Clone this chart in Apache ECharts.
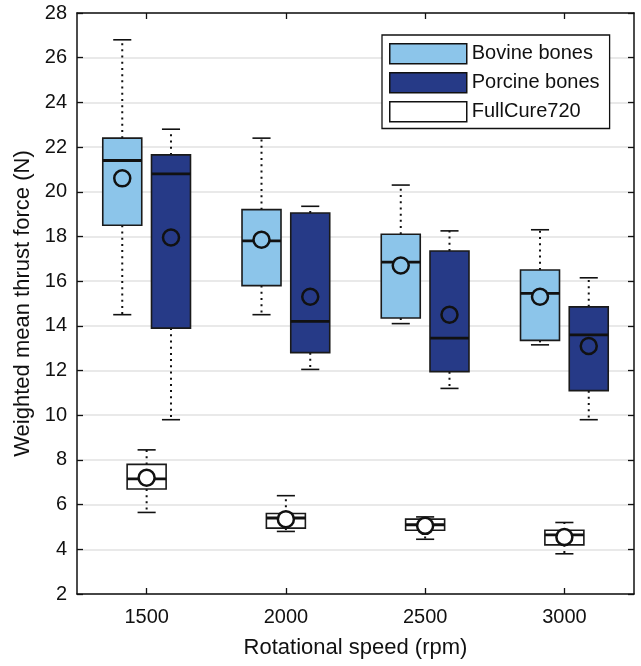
<!DOCTYPE html>
<html>
<head>
<meta charset="utf-8">
<script src="https://cdn.jsdelivr.net/npm/echarts@6/dist/echarts.min.js"></script>
<style>
html,body{margin:0;padding:0;background:#fff;}
#chart{width:641px;height:666px;}
</style>
</head>
<body>
<div id="chart"></div>
<script>
const categories = ['1500', '2000', '2500', '3000'];
const seriesNames = ['Bovine bones', 'Porcine bones', 'FullCure720'];
const yTicks = [2, 28, 2]; // min, max, interval

const bovineLow    = [14.5, 14.5, 14.1, 13.15];
const bovineQ1     = [18.5, 15.8, 14.35, 13.35];
const bovineMedian = [21.4, 17.8, 16.85, 15.45];
const bovineQ3     = [22.4, 19.2, 18.1, 16.5];
const bovineHigh   = [26.8, 22.4, 20.3, 18.3];
const bovineMean   = [20.6, 17.85, 16.7, 15.3];

const porcineLow    = [9.8, 12.05, 11.2, 9.8];
const porcineQ1     = [13.9, 12.8, 11.95, 11.1];
const porcineMedian = [20.8, 14.2, 13.45, 13.6];
const porcineQ3     = [21.65, 19.05, 17.35, 14.85];
const porcineHigh   = [22.8, 19.35, 18.25, 16.15];
const porcineMean   = [17.95, 15.3, 14.5, 13.1];

const fullLow    = [5.65, 4.8, 4.45, 3.8];
const fullQ1     = [6.7, 4.95, 4.85, 4.2];
const fullMedian = [7.15, 5.4, 5.1, 4.65];
const fullQ3     = [7.8, 5.6, 5.35, 4.85];
const fullHigh   = [8.45, 6.4, 5.45, 5.2];
const fullMean   = [7.2, 5.35, 5.05, 4.55];

const FONT = "'Liberation Sans', Arial, Helvetica, sans-serif";
const INK = '#111';

function buildData(low, q1, med, q3, high, mean) {
  return categories.map((c, i) => [i, low[i], q1[i], med[i], q3[i], high[i], mean[i]]);
}

function makeRender(offset, color) {
  return function (params, api) {
    const idx = api.value(0);
    const band = api.size([1, 0])[0];
    const cx = api.coord([idx, 0])[0] + offset * band;
    const Y = v => api.coord([idx, v])[1];
    const w = band * 0.28;
    const cap = band * 0.13;
    const low = Y(api.value(1)), q1 = Y(api.value(2)), med = Y(api.value(3)),
          q3 = Y(api.value(4)), high = Y(api.value(5)), mean = Y(api.value(6));
    const dotted = { stroke: INK, lineWidth: 2, lineDash: [2, 4.2], fill: null };
    const solid = { stroke: INK, lineWidth: 1.6, fill: null };
    return {
      type: 'group',
      children: [
        { type: 'line', shape: { x1: cx, y1: q3, x2: cx, y2: high }, style: dotted },
        { type: 'line', shape: { x1: cx, y1: q1, x2: cx, y2: low }, style: dotted },
        { type: 'line', shape: { x1: cx - cap / 2, y1: high, x2: cx + cap / 2, y2: high }, style: solid },
        { type: 'line', shape: { x1: cx - cap / 2, y1: low, x2: cx + cap / 2, y2: low }, style: solid },
        { type: 'rect', shape: { x: cx - w / 2, y: q3, width: w, height: q1 - q3 },
          style: { fill: color, stroke: '#1a1a1a', lineWidth: 1.6 } },
        { type: 'line', shape: { x1: cx - w / 2, y1: med, x2: cx + w / 2, y2: med },
          style: { stroke: INK, lineWidth: 2.8 } },
        { type: 'circle', shape: { cx: cx, cy: mean, r: 8 },
          style: { fill: color, stroke: INK, lineWidth: 2.5 } }
      ]
    };
  };
}

const colors = ['#8CC5EA', '#263A87', '#ffffff'];
const groups = [
  { name: seriesNames[0], off: -0.175, data: buildData(bovineLow, bovineQ1, bovineMedian, bovineQ3, bovineHigh, bovineMean) },
  { name: seriesNames[1], off: 0.175, data: buildData(porcineLow, porcineQ1, porcineMedian, porcineQ3, porcineHigh, porcineMean) },
  { name: seriesNames[2], off: 0, data: buildData(fullLow, fullQ1, fullMedian, fullQ3, fullHigh, fullMean) }
];

const chart = echarts.init(document.getElementById('chart'), null, { renderer: 'canvas' });

const axisLine = { show: true, lineStyle: { color: INK, width: 1.5 } };
const tickIn = { show: true, inside: true, length: 6, lineStyle: { color: INK, width: 1.3 } };

chart.setOption({
  animation: false,
  backgroundColor: '#fff',
  textStyle: { fontFamily: FONT },
  grid: { left: 77, right: 7, top: 13, bottom: 72, containLabel: false },
  legend: {
    data: seriesNames,
    orient: 'vertical',
    left: 382, top: 35,
    padding: [8, 10, 6, 7],
    itemWidth: 77, itemHeight: 20, itemGap: 7.5,
    icon: 'rect',
    borderColor: INK, borderWidth: 1.3,
    backgroundColor: '#fff',
    itemStyle: { borderColor: INK, borderWidth: 1.5 },
    textStyle: { fontSize: 20, color: INK, fontFamily: FONT, lineHeight: 20 },
    selectedMode: false
  },
  xAxis: [
    {
      type: 'category', data: categories, position: 'bottom', boundaryGap: true,
      axisLine: axisLine, axisTick: Object.assign({ alignWithLabel: true }, tickIn),
      axisLabel: { fontSize: 20, color: INK, margin: 13, fontFamily: FONT },
      splitLine: { show: false },
      name: 'Rotational speed (rpm)', nameLocation: 'middle', nameGap: 43,
      nameTextStyle: { fontSize: 22, color: INK, fontFamily: FONT }
    },
    {
      type: 'category', data: categories, position: 'top', boundaryGap: true,
      axisLine: axisLine, axisTick: Object.assign({ alignWithLabel: true }, tickIn),
      axisLabel: { show: false }, splitLine: { show: false }
    }
  ],
  yAxis: [
    {
      type: 'value', min: yTicks[0], max: yTicks[1], interval: yTicks[2], position: 'left',
      axisLine: axisLine, axisTick: tickIn,
      axisLabel: { fontSize: 20, color: INK, margin: 10, fontFamily: FONT },
      splitLine: { show: true, lineStyle: { color: '#e2e2e2', width: 1.5 } },
      name: 'Weighted mean thrust force (N)', nameLocation: 'middle', nameGap: 37,
      nameTextStyle: { fontSize: 22, color: INK, fontFamily: FONT }
    },
    {
      type: 'value', min: yTicks[0], max: yTicks[1], interval: yTicks[2], position: 'right',
      axisLine: axisLine, axisTick: tickIn, axisLabel: { show: false }, splitLine: { show: false }
    }
  ],
  series: groups.map((g, k) => ({
    type: 'custom',
    name: g.name,
    xAxisIndex: 0, yAxisIndex: 0,
    itemStyle: { color: colors[k], borderColor: INK, borderWidth: 1.5 },
    renderItem: makeRender(g.off, colors[k]),
    encode: { x: 0, y: [1, 2, 3, 4, 5, 6] },
    data: g.data,
    z: 3
  }))
});
</script>
</body>
</html>
